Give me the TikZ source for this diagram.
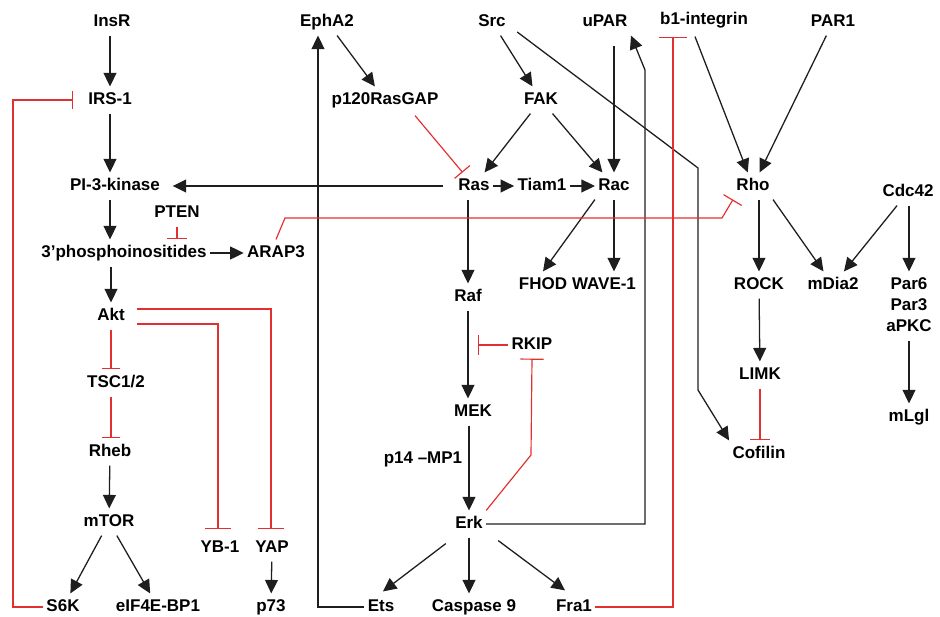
\documentclass[tikz,border=0pt]{standalone}
\usepackage{fontspec}
\setmainfont{Liberation Sans}
\usepackage{tikz}
\usetikzlibrary{arrows.meta, positioning, calc}
\definecolor{inhred}{RGB}{226,48,48}
\definecolor{mydark}{RGB}{30,30,30}
\tikzset{
  prot/.style={inner sep=0pt, outer xsep=3pt, outer ysep=8pt,
    text height=0.72em, text depth=0pt,
    font=\fontsize{14.5}{17}\selectfont\bfseries},
  arrow/.style={-{Triangle[length=11.5pt,width=11pt]}, line width=1.1pt, color=mydark},
  inhibit/.style={-{Bar[width=#1]}, line width=1pt, color=inhred},
  inhibit/.default=16pt
}
\begin{document}
\begin{tikzpicture}[x=0.03cm, y=-0.03cm]
  \useasboundingbox (0,0) rectangle (940,617);

  % Insulin / PI3K column
  \node[prot] (insr) at (112,22) {InsR};
  \node[prot] (irs) at (110,100) {IRS-1};
  \node[prot] (pik) at (115,186) {PI-3-kinase};
  \node[prot] (pten) at (177,213) {PTEN};
  \node[prot] (phos) at (124,253) {3'phosphoinositides};
  \node[prot] (arap) at (276,253) {ARAP3};
  \node[prot] (akt) at (111,316) {Akt};
  \node[prot] (tsc) at (116,383) {TSC1/2};
  \node[prot] (rheb) at (110,452) {Rheb};
  \node[prot] (mtor) at (109,522) {mTOR};
  \node[prot] (s6k) at (63,607) {S6K};
  \node[prot] (eif) at (158,607) {eIF4E-BP1};
  \node[prot] (yb1) at (220,548) {YB-1};
  \node[prot] (yap) at (272,548) {YAP};
  \node[prot] (p73) at (271,607) {p73};

  % Ras / MAPK column
  \node[prot] (epha) at (327,22) {EphA2};
  \node[prot] (p120) at (385,100) {p120RasGAP};
  \node[prot] (src) at (492,22) {Src};
  \node[prot] (fak) at (541,100) {FAK};
  \node[prot] (upar) at (605,22) {uPAR};
  \node[prot] (ras) at (474,186) {Ras};
  \node[prot] (tiam) at (542,186) {Tiam1};
  \node[prot] (rac) at (614,186) {Rac};
  \node[prot] (fhod) at (543,285) {FHOD};
  \node[prot] (wave) at (604,285) {WAVE-1};
  \node[prot] (raf) at (468,297) {Raf};
  \node[prot] (rkip) at (532,345) {RKIP};
  \node[prot] (mek) at (473,412) {MEK};
  \node[prot] (erk) at (469,524) {Erk};
  \node[prot, outer sep=0pt] (p14) at (423,459) {p14 –MP1};
  \node[prot] (ets) at (381,607) {Ets};
  \node[prot] (casp) at (474,607) {Caspase 9};
  \node[prot] (fra) at (574,607) {Fra1};

  % Rho column
  \node[prot] (b1) at (704,20) {b1-integrin};
  \node[prot] (par1) at (833,22) {PAR1};
  \node[prot] (rho) at (753,186) {Rho};
  \node[prot] (cdc) at (908,192) {Cdc42};
  \node[prot] (rock) at (759,285) {ROCK};
  \node[prot] (mdia) at (833,285) {mDia2};
  \node[prot] (par6) at (909,285) {Par6};
  \node[prot] (par3) at (909,306) {Par3};
  \node[prot] (apkc) at (909,327) {aPKC};
  \node[prot] (limk) at (760,375) {LIMK};
  \node[prot] (cof) at (759,454) {Cofilin};
  \node[prot] (mlgl) at (909,417) {mLgl};

  % bends
  \coordinate (lbus) at (13,0);
  \coordinate (srcbend1) at (698,168);
  \coordinate (srcbend2) at (698,390);
  \coordinate (erkbend) at (645,70);
  \coordinate (rkipbend) at (531,455);
  \coordinate (arapbend) at (285,218);
  \coordinate (rhobend) at (722,218);

  % left column
  \draw[arrow] (insr.south -| irs) -- (irs.north);
  \draw[arrow] (irs.south) -- (irs.south |- pik.north);
  \draw[arrow] (irs.south |- pik.south) -- (irs.south |- phos.north);
  \draw[arrow] (akt.north |- phos.south) -- (akt.north);
  \draw[arrow] (phos) -- (arap);
  \draw[inhibit=17pt] (pten.south) -- (pten.south |- phos.north);
  \draw[inhibit=15pt] (akt.south) -- (akt.south |- tsc.north);
  \draw[inhibit=15pt] (akt.south |- tsc.south) -- (akt.south |- rheb.north);
  \draw[arrow] (rheb) -- (mtor);
  \draw[arrow] (mtor) -- (s6k);
  \draw[arrow] (mtor) -- (eif);
  \draw[arrow] (yap) -- (p73);
  \draw[inhibit=23pt] ($(akt.east)+(9,8)$) -| ($(yb1.north)+(-2,-5)$);
  \draw[inhibit=23pt] ($(akt.east)+(9,-7)$) -| ($(yap.north)+(-1,-5)$);
  \draw[inhibit=15pt] (s6k.west) -- (s6k.west -| lbus) |- ($(irs.west)+(-12,0)$);

  % middle column
  \draw[arrow, shorten <=0.37cm, shorten >=0.28cm] (ras.west) -- (pik.east);
  \draw[arrow] (ets.west) -| ($(epha.south)+(-9,0)$);
  \draw[arrow] (epha) -- (p120);
  \draw[inhibit=17pt] ($(p120.south)+(30,2)$) -- (ras);
  \draw[arrow] (src) -- (fak);
  \draw[arrow] ($(src.east)+(8,10)$) -- (srcbend1) -- (srcbend2) -- (cof.north west);
  \draw[arrow, shorten <=0.3cm] (rac.north |- upar.south) -- (rac.north);
  \draw[arrow] (erk.east) -| (erkbend) -- (upar.south east);
  \draw[arrow] (fak) -- (ras);
  \draw[arrow] (fak) -- (rac);
  \draw[arrow] (ras) -- (tiam);
  \draw[arrow] (tiam) -- (rac);
  \draw[arrow] (rac.south west) -- (fhod.north);
  \draw[arrow] (rac.south) -- (rac.south |- wave.north);
  \draw[arrow] (raf.north |- ras.south) -- (raf.north);
  \draw[arrow] (raf.south) -- (raf.south |- mek.north);
  \draw[inhibit=17pt] (rkip.west) -- ($(rkip.west -| mek)+(5,0)$);
  \draw[arrow] (erk.north |- mek.south) -- (erk.north);
  \draw[inhibit=20pt] (erk.north east) -- (rkipbend) -- (rkip.south);
  \draw[arrow] ($(erk.south west)+(-6,6)$) -- ($(ets.north)+(2,-2)$);
  \draw[arrow] (erk.south) -- (erk.south |- casp.north);
  \draw[arrow] ($(erk.south east)+(12,3)$) -- ($(fra.north)+(-9,-3)$);
  \draw[inhibit=24pt] (fra.east) -| ($(b1.south)+(-31,3)$);

  % right column
  \draw[arrow] ($(b1.south)+(-9,3)$) -- (rho);
  \draw[arrow] (par1) -- (rho);
  \draw[inhibit=18pt] (arap.north) -- (arapbend) -- (rhobend) -- (rho.south west);
  \draw[arrow] (rock.north |- rho.south) -- (rock.north);
  \draw[arrow] (rho.south east) -- (mdia);
  \draw[arrow] (cdc) -- (mdia);
  \draw[arrow] (cdc.south -| par6) -- (par6.north);
  \draw[arrow] (apkc) -- (mlgl);
  \draw[arrow] (rock) -- (limk);
  \draw[inhibit=17pt] (limk.south) -- (limk.south |- cof.north);
\end{tikzpicture}
\end{document}
